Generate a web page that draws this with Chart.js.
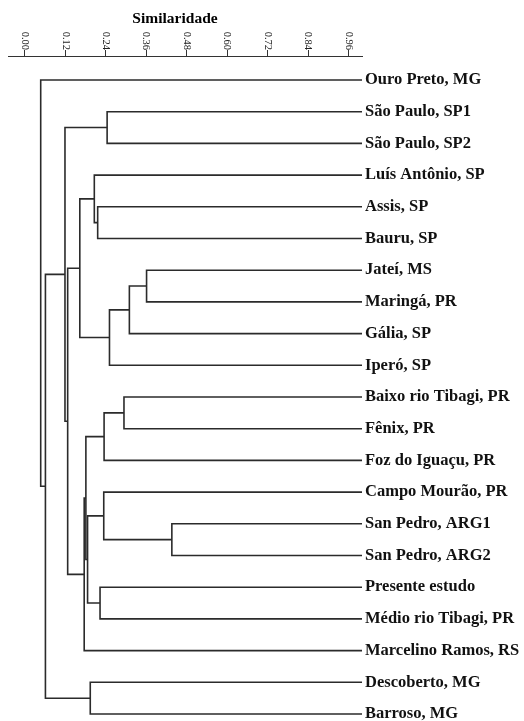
<!DOCTYPE html>
<html>
<head>
<meta charset="utf-8">
<script src="https://cdn.jsdelivr.net/npm/chart.js@4.4.1/dist/chart.umd.min.js"></script>
<style>
  html, body { margin: 0; padding: 0; background: #fff; }
  #wrap { width: 524px; height: 721px; position: relative; }
</style>
</head>
<body>
<div id="wrap"><canvas id="dendro"></canvas></div>
<script>
// folhas (de cima para baixo)
const leaves = [
  'Ouro Preto, MG', 'São Paulo, SP1', 'São Paulo, SP2', 'Luís Antônio, SP',
  'Assis, SP', 'Bauru, SP', 'Jateí, MS', 'Maringá, PR', 'Gália, SP', 'Iperó, SP',
  'Baixo rio Tibagi, PR', 'Fênix, PR', 'Foz do Iguaçu, PR', 'Campo Mourão, PR',
  'San Pedro, ARG1', 'San Pedro, ARG2', 'Presente estudo', 'Médio rio Tibagi, PR',
  'Marcelino Ramos, RS', 'Descoberto, MG', 'Barroso, MG'
];

// agrupamentos: nós 0-20 = folhas, 21+ = grupo k
const mergeA = [1, 4, 3, 6, 24, 25, 23, 10, 28, 14, 13, 16, 31, 29, 34, 27, 21, 19, 37, 0];
const mergeB = [2, 5, 22, 7, 8, 9, 26, 11, 12, 15, 30, 17, 32, 33, 18, 35, 36, 20, 38, 39];
const mergeSim = [0.244, 0.216, 0.206, 0.361, 0.310, 0.251, 0.163, 0.294, 0.235, 0.436,
                  0.234, 0.223, 0.186, 0.181, 0.176, 0.127, 0.119, 0.194, 0.061, 0.047];

const xTicks = [0, 0.12, 0.24, 0.36, 0.48, 0.60, 0.72, 0.84, 0.96];

// posição de cada nó (similaridade, linha)
const nodeSim = leaves.map(() => 1);
const nodeRow = leaves.map((_, i) => i);
const datasets = [];
for (let k = 0; k < mergeSim.length; k++) {
  const a = mergeA[k], b = mergeB[k], s = mergeSim[k];
  datasets.push({
    data: [
      { x: nodeSim[a], y: nodeRow[a] },
      { x: s, y: nodeRow[a] },
      { x: s, y: nodeRow[b] },
      { x: nodeSim[b], y: nodeRow[b] }
    ],
    showLine: true,
    borderColor: '#2b2b2b',
    borderWidth: 1.6,
    pointRadius: 0,
    fill: false
  });
  nodeSim.push(s);
  nodeRow.push((nodeRow[a] + nodeRow[b]) / 2);
}

const axisLabels = {
  id: 'axisLabels',
  afterDraw(chart) {
    const ctx = chart.ctx;
    const xs = chart.scales.x;
    ctx.save();
    ctx.fillStyle = '#222';
    ctx.font = '10.5px "Liberation Serif"';
    xTicks.forEach(v => {
      ctx.save();
      ctx.translate(xs.getPixelForValue(v), 50);
      ctx.rotate(Math.PI / 2);
      ctx.textAlign = 'right';
      ctx.textBaseline = 'middle';
      ctx.fillText(v.toFixed(2), 0, 0);
      ctx.restore();
    });
    ctx.font = 'bold 15.5px "Liberation Serif"';
    ctx.textAlign = 'center';
    ctx.textBaseline = 'middle';
    ctx.fillStyle = '#000';
    ctx.fillText('Similaridade', 175, 19);
    ctx.restore();
  }
};

Chart.defaults.font.family = '"Liberation Serif", serif';

new Chart(document.getElementById('dendro').getContext('2d'), {
  type: 'scatter',
  data: { datasets: datasets },
  options: {
    responsive: true,
    maintainAspectRatio: false,
    animation: false,
    layout: { padding: { left: 8, right: 0, top: 0, bottom: 0 } },
    plugins: { legend: { display: false }, tooltip: { enabled: false } },
    scales: {
      x: {
        type: 'linear',
        position: 'top',
        min: -0.05,
        max: 1.0,
        afterBuildTicks: (scale) => { scale.ticks = xTicks.map(v => ({ value: v })); },
        afterFit: (scale) => { scale.height = 56; },
        ticks: { display: false },
        grid: { drawOnChartArea: false, drawTicks: true, tickLength: 6, color: '#333' },
        border: { color: '#333', width: 1 }
      },
      y: {
        type: 'linear',
        position: 'right',
        reverse: true,
        min: -0.757,
        max: 20.22,
        afterBuildTicks: (scale) => { scale.ticks = leaves.map((_, i) => ({ value: i })); },
        afterFit: (scale) => {
          scale.width = 162;
          scale.paddingTop = 0;
          scale.paddingBottom = 0;
        },
        ticks: {
          callback: (v) => leaves[v],
          font: { size: 16.5, weight: 'bold' },
          color: '#111',
          padding: 3,
          autoSkip: false
        },
        grid: { display: false, drawTicks: false },
        border: { display: false }
      }
    }
  },
  plugins: [axisLabels]
});
</script>
</body>
</html>
